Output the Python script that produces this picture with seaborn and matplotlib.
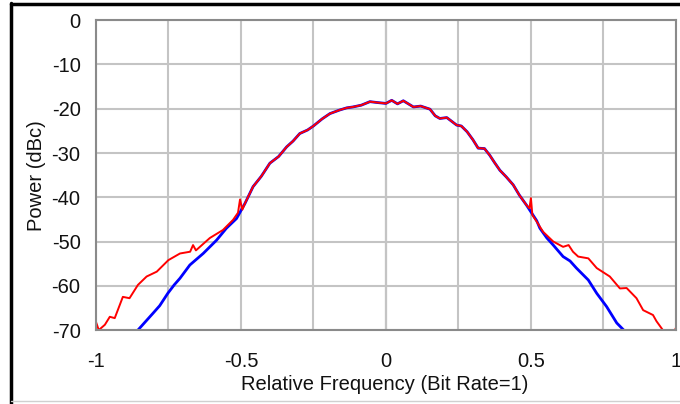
import pandas as pd
import numpy as np
import seaborn as sns
import matplotlib.pyplot as plt
from matplotlib.lines import Line2D

# shared main lobe (both traces overlap here)
center_x = [-0.486, -0.458, -0.43, -0.40, -0.37, -0.342, -0.32, -0.297, -0.27, -0.25,
            -0.22, -0.193, -0.16, -0.135, -0.114, -0.085, -0.055, -0.03, 0.0, 0.02,
            0.04, 0.06, 0.08, 0.095, 0.12, 0.152, 0.17, 0.186, 0.21, 0.244,
            0.26, 0.28, 0.30, 0.318, 0.34, 0.358, 0.375, 0.393, 0.415, 0.439,
            0.46, 0.485]
center_y = [-41.4, -37.6, -35.3, -32.3, -30.8, -28.6, -27.3, -25.6, -24.8, -23.9,
            -22.3, -21.1, -20.3, -19.8, -19.6, -19.2, -18.4, -18.6, -18.8, -18.1,
            -18.9, -18.2, -19.0, -19.6, -19.4, -20.1, -21.6, -22.2, -22.0, -23.7,
            -23.9, -25.2, -27.0, -28.9, -29.0, -30.5, -32.2, -33.9, -35.4, -37.2,
            -39.5, -41.8]

# red trace skirts
red_left_x = [-1.0, -0.99, -0.969, -0.952, -0.935, -0.907, -0.884, -0.855, -0.825, -0.79,
              -0.75, -0.71, -0.675, -0.665, -0.655, -0.607, -0.562, -0.527, -0.51, -0.503, -0.495]
red_left_y = [-68.1, -70.0, -68.8, -67.0, -67.3, -62.5, -62.8, -59.8, -57.9, -56.8,
              -54.2, -52.7, -52.3, -50.8, -52.0, -49.2, -47.4, -45.1, -43.5, -40.5, -42.8]
red_right_x = [0.495, 0.5, 0.505, 0.52, 0.542, 0.577, 0.611, 0.63, 0.645, 0.663,
               0.698, 0.727, 0.772, 0.807, 0.83, 0.864, 0.887, 0.921, 0.933, 0.955,
               0.97, 0.99, 1.0]
red_right_y = [-42.5, -40.2, -44.0, -45.5, -47.8, -50.0, -51.2, -50.8, -52.3, -53.4,
               -53.8, -56.0, -57.9, -60.6, -60.5, -62.8, -65.5, -66.6, -68.0, -70.0,
               -71.5, -71.0, -69.5]

# blue trace skirts
blue_left_x = [-0.87, -0.855, -0.803, -0.78, -0.752, -0.73, -0.71, -0.676, -0.63, -0.584,
               -0.55, -0.515]
blue_left_y = [-71.5, -70.0, -66.2, -64.5, -61.7, -59.8, -58.3, -55.3, -52.7, -49.7,
               -47.0, -44.8]
blue_right_x = [0.52, 0.531, 0.555, 0.577, 0.611, 0.635, 0.657, 0.698, 0.727, 0.761,
                0.796, 0.82, 0.83]
blue_right_y = [-45.3, -47.0, -49.2, -50.8, -53.4, -54.4, -56.0, -58.7, -61.7, -64.7,
                -68.4, -70.0, -71.5]

red = pd.DataFrame({'freq': red_left_x + center_x + red_right_x,
                    'power': red_left_y + center_y + red_right_y})
blue = pd.DataFrame({'freq': blue_left_x + center_x + blue_right_x,
                     'power': blue_left_y + center_y + blue_right_y})

sns.set_style('white')
plt.rcParams['font.family'] = ['Liberation Sans', 'DejaVu Sans']

fig = plt.figure(figsize=(6.8, 4.04), dpi=100)
ax = fig.add_axes([0.141, 0.183, 0.853, 0.767])

sns.lineplot(x='freq', y='power', data=blue, color='#0000ff', linewidth=2.0,
             estimator=None, sort=False, ax=ax)
sns.lineplot(x='freq', y='power', data=red, color='#ff0000', linewidth=1.4,
             estimator=None, sort=False, ax=ax)

ax.set_xlim(-1, 1)
ax.set_ylim(-70, 0)
ax.set_xticks(np.arange(-1, 1.01, 0.25))
ax.set_xticklabels(['-1', '', '-0.5', '', '0', '', '0.5', '', '1'])
ax.set_yticks(range(-70, 1, 10))
ax.set_yticklabels([str(v) for v in range(-70, 1, 10)])
ax.grid(True, color='#c4c4c4', linewidth=1.5)
ax.set_axisbelow(True)
ax.axvline(0, color='#8a8a8a', linewidth=1.5, zorder=0.5)
for s in ax.spines.values():
    s.set_color('#8a8a8a')
    s.set_linewidth(1.5)
ax.tick_params(axis='both', labelsize=14.5, length=5, width=1, color='#8a8a8a', labelcolor='#111111')
ax.tick_params(axis='x', pad=11)
ax.tick_params(axis='y', pad=6)
ax.set_xlabel('Relative Frequency (Bit Rate=1)', fontsize=14.5, color='#111111')
ax.set_ylabel('Power (dBc)', fontsize=14.5, color='#111111')
ax.xaxis.set_label_coords(0.498, -0.175)
ax.yaxis.set_label_coords(-0.103, 0.5)
ax.xaxis.label.set_va('center')
ax.yaxis.label.set_va('center')

# outer frame of the screenshot
fig.add_artist(Line2D([0.016, 0.016], [0, 0.993], transform=fig.transFigure,
                      color='black', linewidth=2.5))
fig.add_artist(Line2D([0.016, 1.0], [0.991, 0.991], transform=fig.transFigure,
                      color='black', linewidth=2.5))
fig.add_artist(Line2D([0.016, 1.0], [0.008, 0.008], transform=fig.transFigure,
                      color='#d0d0d0', linewidth=1))

fig.savefig('out.png', dpi=100)
